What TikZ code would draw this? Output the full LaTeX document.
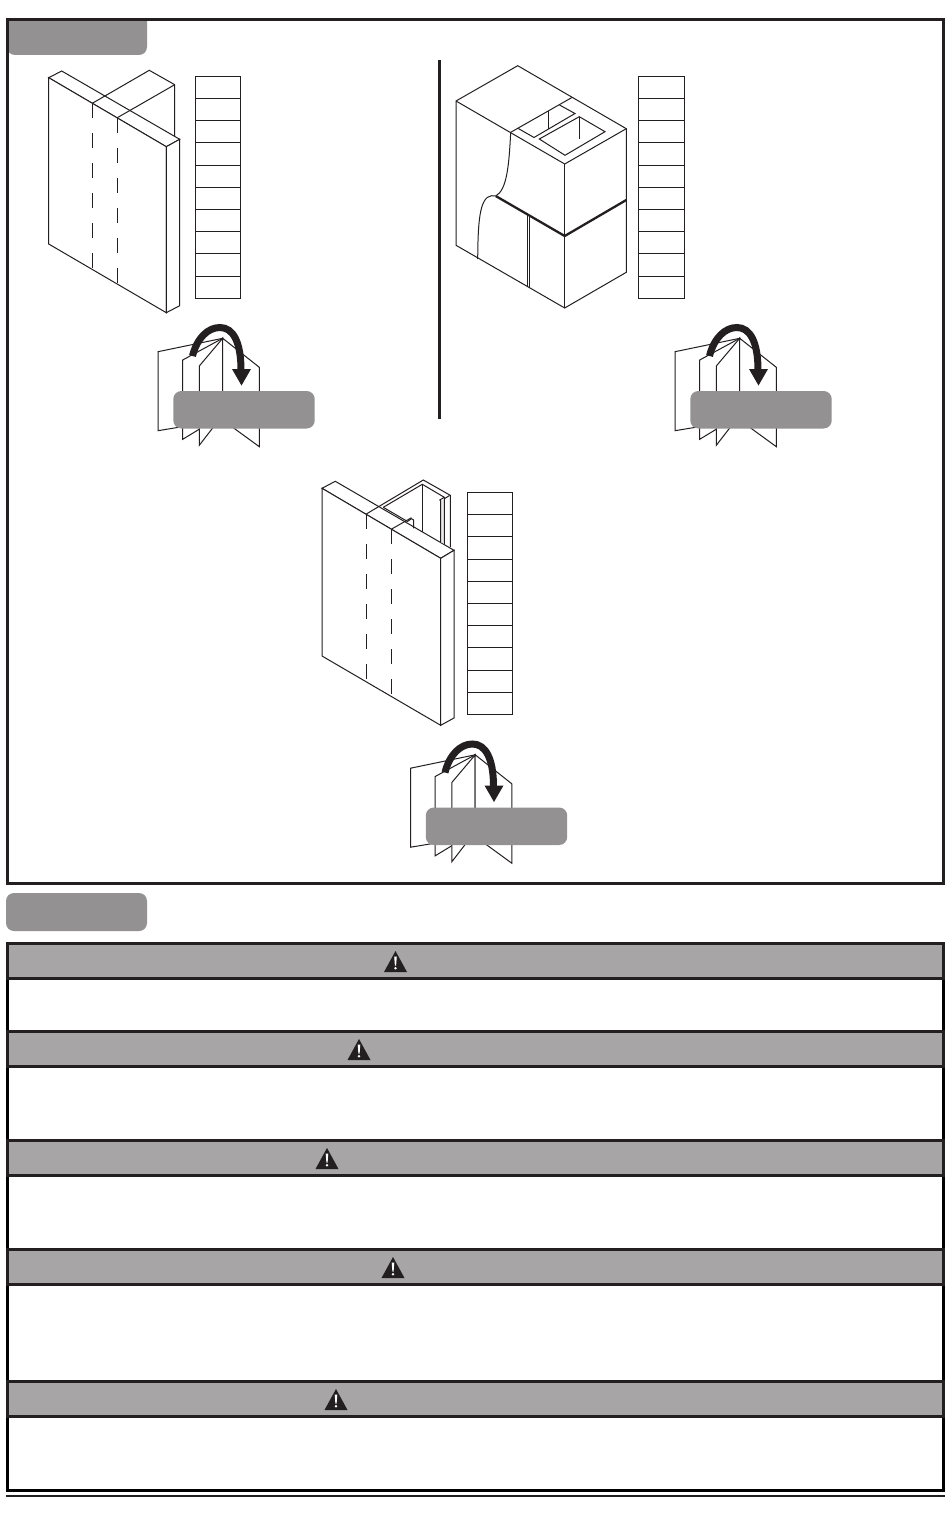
\documentclass[tikz,border=0pt]{standalone}
\definecolor{pillgrey}{HTML}{939192}
\definecolor{bandgrey}{HTML}{A7A5A6}
\definecolor{ink}{HTML}{231F20}
\tikzset{
  x=1pt,y=-1pt,
  thin line/.style={draw=ink,line width=1pt,line join=miter},
  face/.style={thin line,fill=white},
  fold dash/.style={draw=ink,line width=1pt,dash pattern=on 15pt off 15pt},
  frame line/.style={draw=ink,line width=3pt},
  pill/.style={fill=pillgrey,rounded corners=8pt},
  stack/.pic={
    \draw[thin line] (0,0) rectangle (45.5,222);
    \foreach \k in {1,...,9} \draw[thin line] (0,22.2*\k) -- (45.5,22.2*\k);
  },
  foldicon/.pic={
    \draw[face] (158,351.7) -- (222.7,338.3) -- (222.7,420) -- (158,430.7) -- cycle;
    \draw[face] (182.7,360) -- (222.7,338.3) -- (222.7,415) -- (182.7,439.3) -- cycle;
    \draw[face] (199.3,366) -- (222.7,338.3) -- (222.7,415) -- (199.3,445.3) -- cycle;
    \draw[face] (222.7,338.3) -- (259.3,367.3) -- (259.3,446.7) -- (222.7,420) -- cycle;
    \draw[draw=ink,line width=7pt] (192.5,356) .. controls (197,338) and (208,327.5) .. (220,327.5) .. controls (233,327.5) and (241,342) .. (241,370);
    \fill[ink] (232,369) -- (251,369) -- (241.5,385.5) -- cycle;
    \path[pill] (173.3,391) rectangle (314.7,428.5);
  },
  warn/.pic={
    \fill[ink] (-11.5,21) -- (0,0) -- (11.5,21) -- cycle;
    \fill[white] (-1.3,5.5) -- (1.3,5.5) -- (0.6,14.5) -- (-0.6,14.5) -- cycle;
    \fill[white] (0,17.2) circle (1.3);
  }
}
\begin{document}
\begin{tikzpicture}
\useasboundingbox[fill=white] (0,0) rectangle (950,1514);

% header pills
\path[fill=pillgrey,rounded corners=8pt] (7,10) rectangle (147,55);
\fill[white] (0,0) rectangle (950,18);
\path[pill] (6,893) rectangle (147,931);

% top frame
\draw[frame line] (7.5,19.5) rectangle (943.5,883.5);

% panel A: front slab, then the back piece showing through it
\draw[face] (48.7,77.7) -- (61.7,71) -- (179.7,139.3) -- (166.3,146.7) -- cycle;
\draw[face] (48.7,77.7) -- (166.3,146.7) -- (166.3,312.7) -- (48.7,244) -- cycle;
\draw[face] (166.3,146.7) -- (179.7,139.3) -- (179.7,305.7) -- (166.3,312.7) -- cycle;
\draw[thin line] (92.3,103.3) -- (149.3,70.3) -- (174.7,84.7) -- (174.7,136.5);
\draw[thin line] (117.3,117.7) -- (174.7,84.7);
\draw[fold dash] (92.3,103.3) -- (92.3,269.3);
\draw[fold dash] (117.3,117.7) -- (117.3,284);
\pic at (195.2,76.3) {stack};
\pic at (0,0) {foldicon};

% divider
\draw[draw=ink,line width=3pt] (439.5,60) -- (439.5,418.5);

% panel B cabinet
\draw[face] (517.7,65.7) -- (626.3,128.7) -- (626.3,272.3) -- (564.7,308) -- (456,245.3) -- (456,101) -- cycle;
\draw[thin line] (456,101) -- (564.7,164) -- (626.3,128.7);
\draw[thin line] (564.7,164) -- (564.7,308);
\draw[thin line] (510.7,132.3) -- (572.3,97.3);
\draw[thin line] (518.3,128.5) -- (534,137.5) -- (575,113.5) -- (559.5,105);
\draw[thin line] (548.7,111) -- (548.7,129);
\draw[thin line] (539.3,139) -- (579.3,116.7) -- (605,131.7) -- (565,155.3) -- cycle;
\draw[thin line] (579.3,116.7) -- (579.3,139.5);
\draw[thin line] (510.7,132.3) .. controls (509,165) and (507,190) .. (495.7,196);
\draw[thin line] (477.7,259) .. controls (478,225) and (479,197) .. (491.5,195.7) .. controls (493,195.6) and (494.5,195.7) .. (495.7,196);
\draw[draw=ink,line width=2.3pt] (495.7,196) -- (564.7,236) -- (626.3,200);
\draw[thin line] (527.7,214) -- (527.7,286.7);
\draw[thin line] (529.5,215) -- (529.5,287.7);
\pic at (638.7,76.3) {stack};
\pic at (517,0) {foldicon};

% panel C: front slab, then the channel showing through it
\draw[face] (322,488.3) -- (335.3,481.3) -- (454,550.3) -- (440.7,558.3) -- cycle;
\draw[face] (322,488.3) -- (440.7,558.3) -- (440.7,725.3) -- (322,656) -- cycle;
\draw[face] (440.7,558.3) -- (454,550.3) -- (454,718) -- (440.7,725.3) -- cycle;
\fill[black!8] (440.7,501) -- (444.3,499) -- (444.3,544) -- (440.7,542) -- cycle;
\draw[thin line] (366.3,514) -- (423.3,480) -- (450.3,495.3) -- (450.3,547);
\draw[thin line] (383.3,507.3) -- (422.3,484.3) -- (444.3,497.3) -- (439.8,500) -- (440.5,500.7) -- (440.5,542);
\draw[thin line] (449.5,495.5) -- (444.3,498.8) -- (444.3,544);
\draw[thin line] (422.3,484.3) -- (422.3,532);
\draw[thin line] (383.3,507.3) -- (407.5,521.5) -- (411.5,518.7) -- (413.7,520) -- (413.7,528.3);
\draw[thin line] (391.7,529) -- (411.5,517.7);
\draw[fold dash] (366.3,514) -- (366.3,681.3);
\draw[fold dash] (391.7,529) -- (391.7,696);
\pic at (467.2,492.5) {stack};
\pic at (252.5,416.5) {foldicon};

% warning bands
\foreach \a/\b in {943.5/978.5,1031.5/1066.5,1140.5/1175.5,1249.5/1284.5,1381.5/1416.5}
  \fill[bandgrey] (7.5,\a) rectangle (943.5,\b);
\draw[draw=black,line width=3pt] (7.5,943.5) rectangle (943.5,1490.5);
\foreach \a/\b in {943.5/978.5,1031.5/1066.5,1140.5/1175.5,1249.5/1284.5,1381.5/1416.5}
  \draw[frame line] (7.5,\a) rectangle (943.5,\b);
\pic at (395.5,951) {warn};
\pic at (359,1039) {warn};
\pic at (327,1148) {warn};
\pic at (393,1257) {warn};
\pic at (336,1389) {warn};
\draw[draw=ink,line width=1.2pt] (6,1496) -- (945,1496);
\end{tikzpicture}
\end{document}
